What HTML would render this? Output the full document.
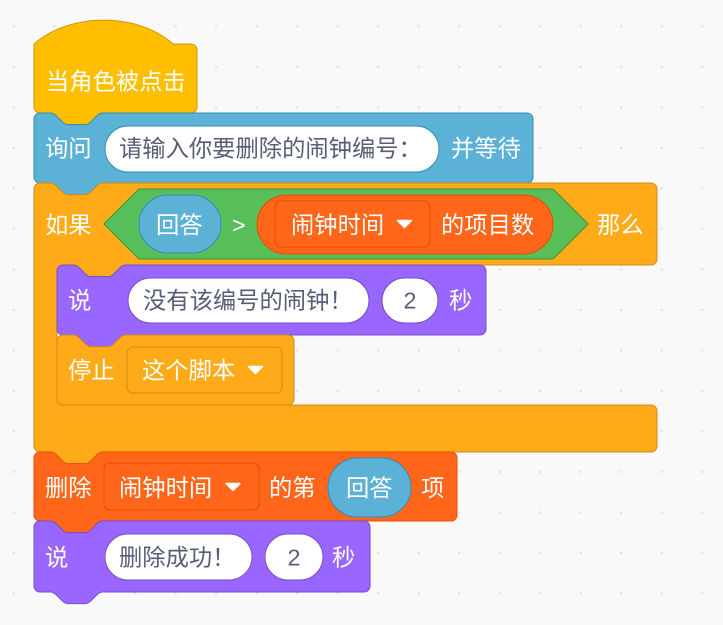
<!DOCTYPE html>
<html>
<head>
<meta charset="utf-8">
<style>
  html, body { margin:0; padding:0; background:#F9F9F9; }
  svg { display:block; }
  text { font-family: "Liberation Sans", "Noto Sans CJK SC", sans-serif; font-size:23.3px; fill:#FFFFFF; }
  .in { fill:#575E75; }
</style>
</head>
<body>
<svg width="723" height="625" viewBox="0 0 723 625" xmlns="http://www.w3.org/2000/svg">
  <defs>
    <pattern id="grid" patternUnits="userSpaceOnUse" x="0" y="0" width="40.5" height="40.5">
      <rect x="12.7" y="25.3" width="2" height="2" fill="#DDDDDD"/>
    </pattern>
  </defs>
  <rect x="0" y="0" width="723" height="625" fill="#F9F9F9"/>
  <rect x="0" y="0" width="723" height="625" fill="url(#grid)"/>

  <!-- Hat block -->
  <path d="M 34,44 c 36.25,-31.9 102.95,-31.9 139.2,0 H 191 a 6,6 0 0 1 6,6 V 107 a 6,6 0 0 1 -6,6 H 102.7 c -2.9,0 -4.35,1.45 -5.8,2.9 l -5.8,5.8 c -1.45,1.45 -2.9,2.9 -5.8,2.9 h -17.4 c -2.9,0 -4.35,-1.45 -5.8,-2.9 l -5.8,-5.8 c -1.45,-1.45 -2.9,-2.9 -5.8,-2.9 H 40 a 6,6 0 0 1 -6,-6 Z" fill="#FFBF00" stroke="#CC9900" stroke-width="1"/>
  <text x="46" y="89.5">当角色被点击</text>

  <!-- Ask block -->
  <path d="M 34,119 a 6,6 0 0 1 6,-6 H 50.5 c 2.9,0 4.35,1.45 5.8,2.9 l 5.8,5.8 c 1.45,1.45 2.9,2.9 5.8,2.9 h 17.4 c 2.9,0 4.35,-1.45 5.8,-2.9 l 5.8,-5.8 c 1.45,-1.45 2.9,-2.9 5.8,-2.9 H 527 a 6,6 0 0 1 6,6 V 177 a 6,6 0 0 1 -6,6 H 102.7 c -2.9,0 -4.35,1.45 -5.8,2.9 l -5.8,5.8 c -1.45,1.45 -2.9,2.9 -5.8,2.9 h -17.4 c -2.9,0 -4.35,-1.45 -5.8,-2.9 l -5.8,-5.8 c -1.45,-1.45 -2.9,-2.9 -5.8,-2.9 H 40 a 6,6 0 0 1 -6,-6 Z" fill="#5CB1D6" stroke="#2E8EB8" stroke-width="1"/>
  <text x="45" y="156.5">询问</text>
  <rect x="105" y="126" width="334" height="46" rx="23" fill="#FFFFFF" stroke="#2E8EB8" stroke-width="1"/>
  <text class="in" x="119" y="156.5">请输入你要删除的闹钟编号：</text>
  <text x="451" y="156.5">并等待</text>

  <!-- If block (C) -->
  <path d="M 34,189 a 6,6 0 0 1 6,-6 H 50.5 c 2.9,0 4.35,1.45 5.8,2.9 l 5.8,5.8 c 1.45,1.45 2.9,2.9 5.8,2.9 h 17.4 c 2.9,0 4.35,-1.45 5.8,-2.9 l 5.8,-5.8 c 1.45,-1.45 2.9,-2.9 5.8,-2.9 H 651 a 6,6 0 0 1 6,6 V 259 a 6,6 0 0 1 -6,6 H 125.7 c -2.9,0 -4.35,1.45 -5.8,2.9 l -5.8,5.8 c -1.45,1.45 -2.9,2.9 -5.8,2.9 h -17.4 c -2.9,0 -4.35,-1.45 -5.8,-2.9 l -5.8,-5.8 c -1.45,-1.45 -2.9,-2.9 -5.8,-2.9 H 63 a 6,6 0 0 0 -6,6 V 399 a 6,6 0 0 0 6,6 H 651 a 6,6 0 0 1 6,6 V 446 a 6,6 0 0 1 -6,6 H 102.7 c -2.9,0 -4.35,1.45 -5.8,2.9 l -5.8,5.8 c -1.45,1.45 -2.9,2.9 -5.8,2.9 h -17.4 c -2.9,0 -4.35,-1.45 -5.8,-2.9 l -5.8,-5.8 c -1.45,-1.45 -2.9,-2.9 -5.8,-2.9 H 40 a 6,6 0 0 1 -6,-6 Z" fill="#FFAB19" stroke="#CF8B17" stroke-width="1"/>
  <text x="45" y="233">如果</text>
  <polygon points="104,224 139,189 553,189 588,224 553,259 139,259" fill="#59C059" stroke="#389438" stroke-width="1"/>
  <rect x="139" y="195" width="82" height="58" rx="29" fill="#5CB1D6" stroke="#2E8EB8" stroke-width="1"/>
  <text x="156" y="233">回答</text>
  <text x="232" y="233">&gt;</text>
  <rect x="257" y="195" width="296" height="59" rx="29.5" fill="#FF661A" stroke="#E64D00" stroke-width="1"/>
  <rect x="275" y="201" width="155" height="46" rx="6" fill="#FF661A" stroke="#E64D00" stroke-width="1"/>
  <text x="291" y="233">闹钟时间</text>
  <path d="M 397.5,220.5 L 411.5,220.5 L 404.5,227.5 Z" fill="#FFFFFF" stroke="#FFFFFF" stroke-width="1.5" stroke-linejoin="round"/>
  <text x="441" y="233">的项目数</text>
  <text x="597" y="233">那么</text>

  <!-- Say block 1 -->
  <path d="M 57,271 a 6,6 0 0 1 6,-6 H 73.5 c 2.9,0 4.35,1.45 5.8,2.9 l 5.8,5.8 c 1.45,1.45 2.9,2.9 5.8,2.9 h 17.4 c 2.9,0 4.35,-1.45 5.8,-2.9 l 5.8,-5.8 c 1.45,-1.45 2.9,-2.9 5.8,-2.9 H 480 a 6,6 0 0 1 6,6 V 329 a 6,6 0 0 1 -6,6 H 125.7 c -2.9,0 -4.35,1.45 -5.8,2.9 l -5.8,5.8 c -1.45,1.45 -2.9,2.9 -5.8,2.9 h -17.4 c -2.9,0 -4.35,-1.45 -5.8,-2.9 l -5.8,-5.8 c -1.45,-1.45 -2.9,-2.9 -5.8,-2.9 H 63 a 6,6 0 0 1 -6,-6 Z" fill="#9966FF" stroke="#774DCB" stroke-width="1"/>
  <text x="68" y="308.5">说</text>
  <rect x="128" y="278" width="241" height="45" rx="22.5" fill="#FFFFFF" stroke="#774DCB" stroke-width="1"/>
  <text class="in" x="143" y="308.5">没有该编号的闹钟！</text>
  <rect x="382" y="278" width="56" height="45" rx="22.5" fill="#FFFFFF" stroke="#774DCB" stroke-width="1"/>
  <text class="in" x="410" y="308.5" text-anchor="middle">2</text>
  <text x="449" y="308.5">秒</text>

  <!-- Stop block (cap) -->
  <path d="M 57,341 a 6,6 0 0 1 6,-6 H 73.5 c 2.9,0 4.35,1.45 5.8,2.9 l 5.8,5.8 c 1.45,1.45 2.9,2.9 5.8,2.9 h 17.4 c 2.9,0 4.35,-1.45 5.8,-2.9 l 5.8,-5.8 c 1.45,-1.45 2.9,-2.9 5.8,-2.9 H 288 a 6,6 0 0 1 6,6 V 399 a 6,6 0 0 1 -6,6 H 63 a 6,6 0 0 1 -6,-6 Z" fill="#FFAB19" stroke="#CF8B17" stroke-width="1"/>
  <text x="68" y="378.5">停止</text>
  <rect x="127" y="347" width="155" height="46" rx="6" fill="#FFAB19" stroke="#CF8B17" stroke-width="1"/>
  <text x="142" y="378.5">这个脚本</text>
  <path d="M 248.5,366.5 L 262.5,366.5 L 255.5,373.5 Z" fill="#FFFFFF" stroke="#FFFFFF" stroke-width="1.5" stroke-linejoin="round"/>

  <!-- Delete block -->
  <path d="M 34,458 a 6,6 0 0 1 6,-6 H 50.5 c 2.9,0 4.35,1.45 5.8,2.9 l 5.8,5.8 c 1.45,1.45 2.9,2.9 5.8,2.9 h 17.4 c 2.9,0 4.35,-1.45 5.8,-2.9 l 5.8,-5.8 c 1.45,-1.45 2.9,-2.9 5.8,-2.9 H 451 a 6,6 0 0 1 6,6 V 515 a 6,6 0 0 1 -6,6 H 102.7 c -2.9,0 -4.35,1.45 -5.8,2.9 l -5.8,5.8 c -1.45,1.45 -2.9,2.9 -5.8,2.9 h -17.4 c -2.9,0 -4.35,-1.45 -5.8,-2.9 l -5.8,-5.8 c -1.45,-1.45 -2.9,-2.9 -5.8,-2.9 H 40 a 6,6 0 0 1 -6,-6 Z" fill="#FF661A" stroke="#E64D00" stroke-width="1"/>
  <text x="45" y="496">删除</text>
  <rect x="104" y="463" width="155" height="47" rx="6" fill="#FF661A" stroke="#E64D00" stroke-width="1"/>
  <text x="119" y="496">闹钟时间</text>
  <path d="M 226,483.5 L 240,483.5 L 233,490.5 Z" fill="#FFFFFF" stroke="#FFFFFF" stroke-width="1.5" stroke-linejoin="round"/>
  <text x="269" y="496">的第</text>
  <rect x="328" y="458" width="83" height="59" rx="29.5" fill="#5CB1D6" stroke="#2E8EB8" stroke-width="1"/>
  <text x="346" y="496">回答</text>
  <text x="421" y="496">项</text>

  <!-- Say block 2 -->
  <path d="M 34,527 a 6,6 0 0 1 6,-6 H 50.5 c 2.9,0 4.35,1.45 5.8,2.9 l 5.8,5.8 c 1.45,1.45 2.9,2.9 5.8,2.9 h 17.4 c 2.9,0 4.35,-1.45 5.8,-2.9 l 5.8,-5.8 c 1.45,-1.45 2.9,-2.9 5.8,-2.9 H 364 a 6,6 0 0 1 6,6 V 586 a 6,6 0 0 1 -6,6 H 102.7 c -2.9,0 -4.35,1.45 -5.8,2.9 l -5.8,5.8 c -1.45,1.45 -2.9,2.9 -5.8,2.9 h -17.4 c -2.9,0 -4.35,-1.45 -5.8,-2.9 l -5.8,-5.8 c -1.45,-1.45 -2.9,-2.9 -5.8,-2.9 H 40 a 6,6 0 0 1 -6,-6 Z" fill="#9966FF" stroke="#774DCB" stroke-width="1"/>
  <text x="45" y="565.5">说</text>
  <rect x="105" y="534" width="147" height="46" rx="23" fill="#FFFFFF" stroke="#774DCB" stroke-width="1"/>
  <text class="in" x="119" y="565.5">删除成功！</text>
  <rect x="265" y="534" width="58" height="46" rx="23" fill="#FFFFFF" stroke="#774DCB" stroke-width="1"/>
  <text class="in" x="294" y="565.5" text-anchor="middle">2</text>
  <text x="332" y="565.5">秒</text>
</svg>
</body>
</html>
